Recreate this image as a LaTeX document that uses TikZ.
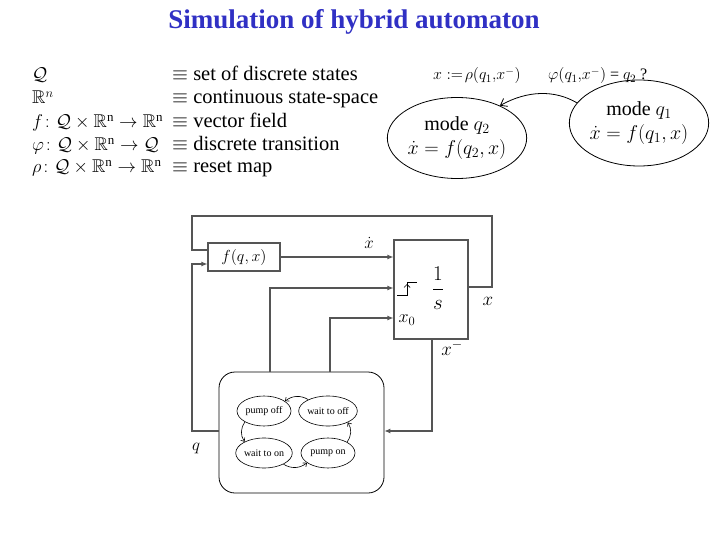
\RequirePackage{fix-cm}
\documentclass[tikz,border=0pt]{standalone}
\usepackage{amsmath,amssymb}
\usepackage{fontspec}
\setmainfont{Liberation Serif}
\usetikzlibrary{arrows.meta,shapes.geometric,calc}
\definecolor{titleblue}{RGB}{48,48,196}
\definecolor{linegray}{RGB}{85,85,85}
\tikzset{
  txt/.style={anchor=base west,inner sep=0pt,font=\fontsize{20.5}{24}\selectfont},
  mtxt/.style={anchor=base west,inner sep=0pt,font=\fontsize{18.5}{22}\selectfont},
  modeell/.style={draw,ellipse,inner sep=0pt,line width=0.8pt,align=center,font=\fontsize{20}{25}\selectfont},
  blk/.style={draw=linegray,line width=1.1pt,inner sep=0pt},
  wire/.style={draw=linegray,line width=1.1pt},
  wirearr/.style={wire,-{Latex[length=6pt,width=5pt]}},
  stateell/.style={draw,ellipse,inner sep=0pt,line width=0.6pt,minimum width=54pt,minimum height=30pt,font=\fontsize{10}{11}\selectfont},
  smallarr/.style={line width=0.6pt,-{Straight Barb[length=3pt,width=5pt]},bend right=35},
  lbl/.style={inner sep=0pt}
}
\begin{document}
\begin{tikzpicture}[x=1pt,y=-1pt]
\useasboundingbox[fill=white] (0,0) rectangle (720,540);
% title
\node[font=\fontsize{27}{32}\selectfont\bfseries,text=titleblue] (title) at (354,22) {Simulation of hybrid automaton};
% definitions
\node[mtxt] (d1a) at (32,81) {$\mathcal{Q}$};
\node[txt] (d1b) at (172,81) {$\equiv$ set of discrete states};
\node[mtxt] (d2a) at (32,104) {$\mathbb{R}^n$};
\node[txt] (d2b) at (172,104) {$\equiv$ continuous state-space};
\node[mtxt] (d3a) at (32,128) {$f\colon \mathcal{Q}\times\mathbb{R}^{\mathrm{n}}\rightarrow\mathbb{R}^{\mathrm{n}}$};
\node[txt] (d3b) at (172,128) {$\equiv$ vector field};
\node[mtxt] (d4a) at (32,151) {$\varphi\colon \mathcal{Q}\times\mathbb{R}^{\mathrm{n}}\rightarrow\mathcal{Q}$};
\node[txt] (d4b) at (172,151) {$\equiv$ discrete transition};
\node[mtxt] (d5a) at (32,173) {$\rho\colon \mathcal{Q}\times\mathbb{R}^{\mathrm{n}}\rightarrow\mathbb{R}^{\mathrm{n}}$};
\node[txt] (d5b) at (172,173) {$\equiv$ reset map};
% modes
\node[txt,font=\fontsize{16}{19}\selectfont] (reset) at (433,80) {$x := \!\rho(q_1,\!x^{-})$};
\node[txt,font=\fontsize{16}{19}\selectfont] (guard) at (548,80) {$\varphi(q_1,\!x^{-})$ = $q_2$ ?};
\node[modeell,minimum width=130pt,minimum height=81pt] (q2) at (457,138) {mode $q_2$\\[-1pt] $\dot x = f(q_2,x)$};
\node[modeell,minimum width=128pt,minimum height=86pt] (q1) at (639,123) {mode $q_1$\\[-1pt] $\dot x = f(q_1,x)$};
\draw[line width=0.8pt,-{Straight Barb[length=6pt,width=9pt]}] (q1.162) .. controls (555,90) and (528,90) .. (q2.37);
% block diagram
\node[blk,minimum width=72pt,minimum height=28pt,font=\fontsize{16}{18}\selectfont] (fq) at (244,257) {$f(q,x)$};
\node[blk,minimum width=74pt,minimum height=99pt] (int) at (431,289.5) {};
\node[draw,rounded corners=16pt,line width=0.8pt,minimum width=165pt,minimum height=121pt] (auto) at (301.5,432.5) {};
\node[lbl,font=\fontsize{21}{25}\selectfont] (frac) at (438,288) {$\displaystyle\frac{1}{s}$};
\node[lbl,font=\fontsize{18}{20}\selectfont] (x0) at (407,320) {$x_0$};
\node[lbl,font=\fontsize{17}{19}\selectfont] (xdot) at (369,243) {$\dot x$};
\node[lbl,font=\fontsize{19}{21}\selectfont] (xlab) at (488,301) {$x$};
\node[lbl,font=\fontsize{19}{21}\selectfont] (xminus) at (452,348) {$x^{-}$};
\node[lbl,font=\fontsize{17}{19}\selectfont] (qlab) at (196,448) {$q$};
% reset symbol
\coordinate (rs1) at (397,295);
\coordinate (rs2) at (407,295);
\coordinate (rs3) at (407,282);
\coordinate (rs4) at (417,282);
\draw[line width=0.9pt] (rs1) -- (rs2) -- (rs3) -- (rs4);
\draw[line width=0.7pt,-{Straight Barb[length=3pt,width=6pt]}] (rs2) -- ($(rs3)+(0,2)$);
% wires
\coordinate (c2) at (270,288);
\coordinate (c3) at (330,318);
\coordinate (cxo) at (492,287);
\coordinate (ctop) at (192,216);
\coordinate (cq) at (192,431);
\coordinate (cxm) at (432,431);
\draw[wirearr] (fq.east) -- (int.west |- fq.east);
\draw[wirearr] (auto.north -| c2) -- (c2) -- (int.west |- c2);
\draw[wirearr] (auto.north -| c3) -- (c3) -- (int.west |- c3);
\draw[wire] (int.east |- cxo) -- (cxo) |- (ctop) |- ($(fq.west)+(0,-7)$);
\draw[wirearr] (auto.west |- cq) -- (cq) |- ($(fq.west)+(0,7)$);
\draw[wirearr] (int.south -| cxm) -- (cxm) -- (auto.east |- cxm);
% states
\node[stateell] (po) at (264,411) {pump off};
\node[stateell] (wf) at (328,411) {wait to off};
\node[stateell] (wn) at (264,453) {wait to on};
\node[stateell] (pn) at (328,453) {pump on};
\draw[smallarr] (wf.150) to (po.25);
\draw[smallarr] (po.210) to (wn.150);
\draw[smallarr] (wn.-30) to (pn.205);
\draw[smallarr] (pn.30) to (wf.-30);
\end{tikzpicture}
\end{document}
